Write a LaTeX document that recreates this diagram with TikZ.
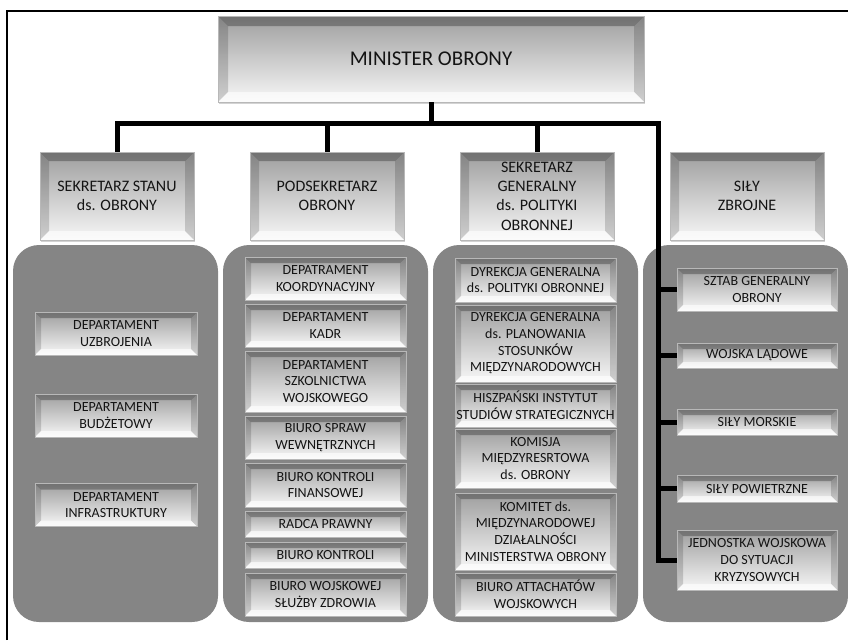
\documentclass[tikz,border=0pt]{standalone}
\usepackage{fontspec}
\setmainfont{Carlito}
\usetikzlibrary{shadows}

\begin{document}
\begin{tikzpicture}[x=1pt, y=-1pt,
  panel/.style={fill=black!48, rounded corners=26pt},
  bevel/.style={rectangle, top color=black!38, bottom color=black!3, draw=black!28, line width=0.8pt, text=black!92, align=center, inner sep=0pt,
    drop shadow={opacity=0.35, shadow xshift=1pt, shadow yshift=-1.5pt},
    path picture={
      \path (path picture bounding box.north west) coordinate (bva)
            (path picture bounding box.north east) coordinate (bvb)
            (path picture bounding box.south east) coordinate (bvc)
            (path picture bounding box.south west) coordinate (bvd);
      \fill[black, opacity=0.28] (bva) -- (bvb) -- ([shift={(-#1,-#1)}]bvb) -- ([shift={(#1,-#1)}]bva) -- cycle;
      \fill[black, opacity=0.16] (bva) -- ([shift={(#1,-#1)}]bva) -- ([shift={(#1,#1)}]bvd) -- (bvd) -- cycle;
      \fill[black, opacity=0.16] (bvb) -- ([shift={(-#1,-#1)}]bvb) -- ([shift={(-#1,#1)}]bvc) -- (bvc) -- cycle;
      \fill[white, opacity=0.6] (bvd) -- (bvc) -- ([shift={(-#1,#1)}]bvc) -- ([shift={(#1,#1)}]bvd) -- cycle;
    }},
  bevel/.default=6pt,
  headbox/.style={bevel=9pt, minimum width=154pt, minimum height=88pt, font=\fontsize{16}{19.3}\selectfont},
  unitbox/.style={bevel, minimum width=161pt, font=\fontsize{14}{16.7}\selectfont},
  link/.style={line width=5pt, black}]
\useasboundingbox (0,0) rectangle (848,640);

% Frame
\draw[line width=2.5pt] (7,640) -- (7,11) -- (848,11);

% Minister
\node[bevel=10pt, minimum width=426pt, minimum height=86pt, font=\fontsize{21}{25}\selectfont] (min) at (431,59) {MINISTER OBRONY};

% Heads
\node[headbox] (sek) at (117,196) {SEKRETARZ STANU\\ds. OBRONY};
\node[headbox] (pod) at (327,196) {PODSEKRETARZ\\OBRONY};
\node[headbox] (gen) at (537,196) {SEKRETARZ\\GENERALNY\\ds. POLITYKI\\OBRONNEJ};
\node[headbox] (sil) at (747,196) {SIŁY\\ZBROJNE};

% Panels
\fill[panel] (13,245) rectangle (218,622);
\fill[panel] (223,245) rectangle (428,622);
\fill[panel] (433,245) rectangle (638,622);
\fill[panel] (643,245) rectangle (848,622);

% Sekretarz stanu
\node[unitbox, minimum width=162pt, minimum height=43pt] (uzb) at (116,333.5) {DEPARTAMENT\\UZBROJENIA};
\node[unitbox, minimum width=162pt, minimum height=43pt] (bud) at (116,415.5) {DEPARTAMENT\\BUDŻETOWY};
\node[unitbox, minimum width=162pt, minimum height=43pt] (inf) at (116,505) {DEPARTAMENT\\INFRASTRUKTURY};

% Podsekretarz
\node[unitbox, minimum height=43pt] (koo) at (325.5,278.5) {DEPATRAMENT\\KOORDYNACYJNY};
\node[unitbox, minimum height=43pt] (kad) at (325.5,325.5) {DEPARTAMENT\\KADR};
\node[unitbox, minimum height=61pt] (szk) at (325.5,381.5) {DEPARTAMENT\\SZKOLNICTWA\\WOJSKOWEGO};
\node[unitbox, minimum height=43pt] (spr) at (325.5,437.5) {BIURO SPRAW\\WEWNĘTRZNYCH};
\node[unitbox, minimum height=44pt] (fin) at (325.5,485) {BIURO KONTROLI\\FINANSOWEJ};
\node[unitbox, minimum height=26pt] (rad) at (325.5,524) {RADCA PRAWNY};
\node[unitbox, minimum height=26pt] (kon) at (325.5,555) {BIURO KONTROLI};
\node[unitbox, minimum height=43pt] (zdr) at (325.5,594.5) {BIURO WOJSKOWEJ\\SŁUŻBY ZDROWIA};

% Sekretarz generalny
\node[unitbox, minimum height=44pt] (dpo) at (535.5,280) {DYREKCJA GENERALNA\\ds. POLITYKI OBRONNEJ};
\node[unitbox, minimum height=77pt] (dpl) at (535.5,343.5) {DYREKCJA GENERALNA\\ds. PLANOWANIA\\STOSUNKÓW\\MIĘDZYNARODOWYCH};
\node[unitbox, minimum height=43pt] (his) at (535.5,405.5) {HISZPAŃSKI INSTYTUT\\STUDIÓW STRATEGICZNYCH};
\node[unitbox, minimum height=59pt] (kom) at (535.5,458.5) {KOMISJA\\MIĘDZYRESRTOWA\\ds. OBRONY};
\node[unitbox, minimum height=77pt] (kmt) at (535.5,531.5) {KOMITET ds.\\MIĘDZYNARODOWEJ\\DZIAŁALNOŚCI\\MINISTERSTWA OBRONY};
\node[unitbox, minimum height=43pt] (att) at (535.5,594.5) {BIURO ATTACHATÓW\\WOJSKOWYCH};

% Sily zbrojne
\node[unitbox, minimum width=160pt, minimum height=43pt] (szt) at (757,289.5) {SZTAB GENERALNY\\OBRONY};
\node[unitbox, minimum width=160pt, minimum height=25pt] (lad) at (757,355.5) {WOJSKA LĄDOWE};
\node[unitbox, minimum width=160pt, minimum height=26pt] (mor) at (757,422) {SIŁY MORSKIE};
\node[unitbox, minimum width=160pt, minimum height=27pt] (pow) at (757,488.5) {SIŁY POWIETRZNE};
\node[unitbox, minimum width=160pt, minimum height=60pt] (kry) at (757,560) {JEDNOSTKA WOJSKOWA\\DO SYTUACJI\\KRYZYSOWYCH};

% Lines
\coordinate (bus) at (431,123);
\coordinate (trunk) at (658,123);
\draw[link] (min.south) -- (bus);
\draw[link] (sek.north) |- (trunk) |- (kry.west);
\draw[link] (pod.north) -- (pod.north |- bus);
\draw[link] (gen.north) -- (gen.north |- bus);
\foreach \n in {szt,lad,mor,pow}
  \draw[link] (trunk |- \n.west) -- (\n.west);
\end{tikzpicture}
\end{document}
